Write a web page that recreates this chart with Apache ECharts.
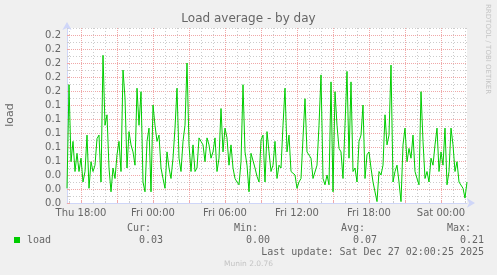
<!DOCTYPE html>
<html><head><meta charset="utf-8">
<script src="https://cdn.jsdelivr.net/npm/echarts@6/dist/echarts.min.js"></script>
<style>html,body{margin:0;padding:0;background:#f0f0f0;}#c{width:497px;height:275px;}</style>
</head><body><div id="c"></div>
<script>
// time in minutes since Thu 00:00 (local time of the data)
const startMinute = 1010;   // Thu 16:50
const stepMinutes = 10;
const loadValues = [
  0.021,0.169,0.059,0.088,0.045,0.071,0.045,0.064,0.030,0.045,0.097,0.021,0.059,0.045,0.054,0.092,0.097,0.030,0.211,0.111,0.126,0.050,0.016,0.050,0.035,0.069,0.088,0.045,0.190,
  0.150,0.050,0.102,0.083,0.073,0.054,0.164,0.111,0.159,0.030,0.016,0.088,0.107,0.016,0.140,0.111,0.088,0.097,0.050,0.035,0.021,0.073,0.050,0.035,0.064,0.107,0.164,0.064,0.045,0.088,
  0.111,0.200,0.083,0.045,0.083,0.045,0.050,0.093,0.088,0.083,0.059,0.093,0.083,0.064,0.073,0.093,0.045,0.064,0.135,0.073,0.107,0.093,0.054,0.083,0.050,0.035,0.030,0.026,0.059,0.169,
  0.073,0.054,0.016,0.071,0.069,0.050,0.038,0.030,0.090,0.097,0.030,0.102,0.073,0.045,0.054,0.088,0.035,0.054,0.050,0.111,0.164,0.073,0.097,0.045,0.045,0.040,0.021,0.030,0.035,0.093,
  0.149,0.073,0.073,0.064,0.035,0.035,0.054,0.111,0.183,0.035,0.026,0.040,0.026,0.173,0.016,0.159,0.111,0.078,0.073,0.035,0.111,0.188,0.064,0.173,0.045,0.050,0.030,0.088,0.097,0.140,
  0.035,0.069,0.073,0.050,0.030,0.028,0.002,0.045,0.040,0.054,0.126,0.083,0.097,0.197,0.030,0.045,0.054,0.030,0.002,0.083,0.107,0.059,0.078,0.064,0.097,0.045,0.035,0.026,0.159,0.088,
  0.035,0.045,0.030,0.064,0.054,0.083,0.107,0.045,0.073,0.054,0.107,0.026,0.045,0.107,0.083,0.045,0.059,0.030,0.030,0.021,0.007,0.030
];
const xLabelMinutes = [1080, 1440, 1800, 2160, 2520, 2880];
const xLabelTexts = ['Thu 18:00', 'Fri 00:00', 'Fri 06:00', 'Fri 12:00', 'Fri 18:00', 'Sat 00:00'];
const yMax = 0.25;
const yMajorTicks = [0,0.02,0.04,0.06,0.08,0.10,0.12,0.14,0.16,0.18,0.20,0.22,0.24];
const yMinorTicks = [0.01,0.03,0.05,0.07,0.09,0.11,0.13,0.15,0.17,0.19,0.21,0.23,0.25];
const titleText = 'Load average - by day';
const seriesName = 'load';
const lastUpdate = 'Last update: Sat Dec 27 02:00:25 2025';
const versionText = 'Munin 2.0.76';
const watermark = 'RRDTOOL / TOBI OETIKER';

const endMinute = startMinute + (loadValues.length - 1) * stepMinutes;
const hourTicks = [];
for (let m = Math.ceil(startMinute / 60) * 60; m <= endMinute; m += 60) hourTicks.push(m);
const majorTicks = hourTicks.filter(m => m % 180 === 0);
const minorXTicks = hourTicks.filter(m => m % 180 !== 0);
const seriesData = loadValues.map((v, i) => [startMinute + i * stepMinutes, v]);

const cur = loadValues[loadValues.length - 1];
const mn = Math.min(...loadValues), mx = Math.max(...loadValues);
const avg = loadValues.reduce((a, b) => a + b, 0) / loadValues.length;

const FONT = '#666666', AXIS = '#CFD6F8';
const GRID = '#cccccc', MGRID = '#f0a8a8';
const mono = '"DejaVu Sans Mono", monospace';
const sans = '"DejaVu Sans", sans-serif';

const chart = echarts.init(document.getElementById('c'), null, {renderer: 'canvas'});
const txt = (text, x, y, align, font, fill, rot) => ({
  type: 'text', silent: true, x: x, y: y, rotation: rot || 0,
  style: {text, x: 0, y: 0, textAlign: align, textVerticalAlign: 'middle', font, fill: fill || FONT}
});

chart.setOption({
  backgroundColor: '#f0f0f0',
  animation: false,
  grid: {left: 67, right: 30, top: 28, bottom: 72, show: true, backgroundColor: '#ffffff', borderWidth: 0},
  xAxis: [
    {type: 'value', min: startMinute, max: endMinute, position: 'bottom',
     axisLine: {show: false}, axisLabel: {show: false},
     axisTick: {show: true, customValues: minorXTicks, length: 2, inside: true, lineStyle: {color: GRID}},
     splitLine: {show: true, lineStyle: {color: GRID, width: 1, type: [1, 2]}}},
    {type: 'value', min: startMinute, max: endMinute, position: 'bottom',
     axisLine: {show: true, lineStyle: {color: AXIS, width: 1}, symbol: ['none', 'arrow'], symbolSize: [7, 8], symbolOffset: [0, 8]},
     axisTick: {show: true, customValues: majorTicks, length: 3, inside: true, lineStyle: {color: MGRID}},
     axisLabel: {show: true, customValues: xLabelMinutes, margin: 5, color: FONT, fontSize: 10, fontFamily: sans,
       formatter: v => xLabelTexts[xLabelMinutes.indexOf(v)] || ''},
     splitLine: {show: true, lineStyle: {color: MGRID, width: 1, type: [1, 1]}}}
  ],
  yAxis: [
    {type: 'value', min: 0, max: yMax, position: 'left',
     axisLine: {show: false}, axisLabel: {show: false},
     axisTick: {show: true, customValues: yMinorTicks, length: 2, inside: true, lineStyle: {color: GRID}},
     splitLine: {show: true, lineStyle: {color: GRID, width: 1, type: [1, 2]}}},
    {type: 'value', min: 0, max: yMax, position: 'left',
     axisLine: {show: true, lineStyle: {color: AXIS, width: 1}, symbol: ['none', 'arrow'], symbolSize: [7, 8], symbolOffset: [0, 6]},
     axisTick: {show: true, customValues: yMajorTicks, length: 3, inside: true, lineStyle: {color: MGRID}},
     axisLabel: {show: true, customValues: yMajorTicks, margin: 6, color: FONT, fontSize: 10, fontFamily: sans,
       formatter: v => v.toFixed(1)},
     splitLine: {show: true, lineStyle: {color: MGRID, width: 1, type: [1, 1]}}}
  ],
  series: [
    {name: seriesName, type: 'line', xAxisIndex: 1, yAxisIndex: 1, data: seriesData,
     showSymbol: false, symbol: 'none', lineStyle: {color: '#00cc00', width: 1}, z: 5}
  ],
  graphic: [
    txt(titleText, 248.5, 19, 'center', '12px ' + sans),
    txt('load', 10, 115, 'center', '11px ' + sans, FONT, Math.PI / 2),
    txt(watermark, 488, 4, 'left', '7px ' + sans, '#c4c4c4', -Math.PI / 2),
    {type: 'rect', silent: true, shape: {x: 14, y: 237, width: 6, height: 6}, style: {fill: '#00cc00'}},
    txt(seriesName, 27, 240, 'left', '10px ' + mono),
    txt('Cur:', 151, 228, 'right', '10px ' + mono),
    txt('Min:', 258, 228, 'right', '10px ' + mono),
    txt('Avg:', 365, 228, 'right', '10px ' + mono),
    txt('Max:', 471, 228, 'right', '10px ' + mono),
    txt(cur.toFixed(2), 163, 240, 'right', '10px ' + mono),
    txt(mn.toFixed(2), 270, 240, 'right', '10px ' + mono),
    txt(avg.toFixed(2), 377, 240, 'right', '10px ' + mono),
    txt(mx.toFixed(2), 484, 240, 'right', '10px ' + mono),
    txt(lastUpdate, 484, 252, 'right', '10px ' + mono),
    txt(versionText, 248.5, 264, 'center', '7.5px ' + sans, '#c4c4c4')
  ]
});
</script></body></html>
